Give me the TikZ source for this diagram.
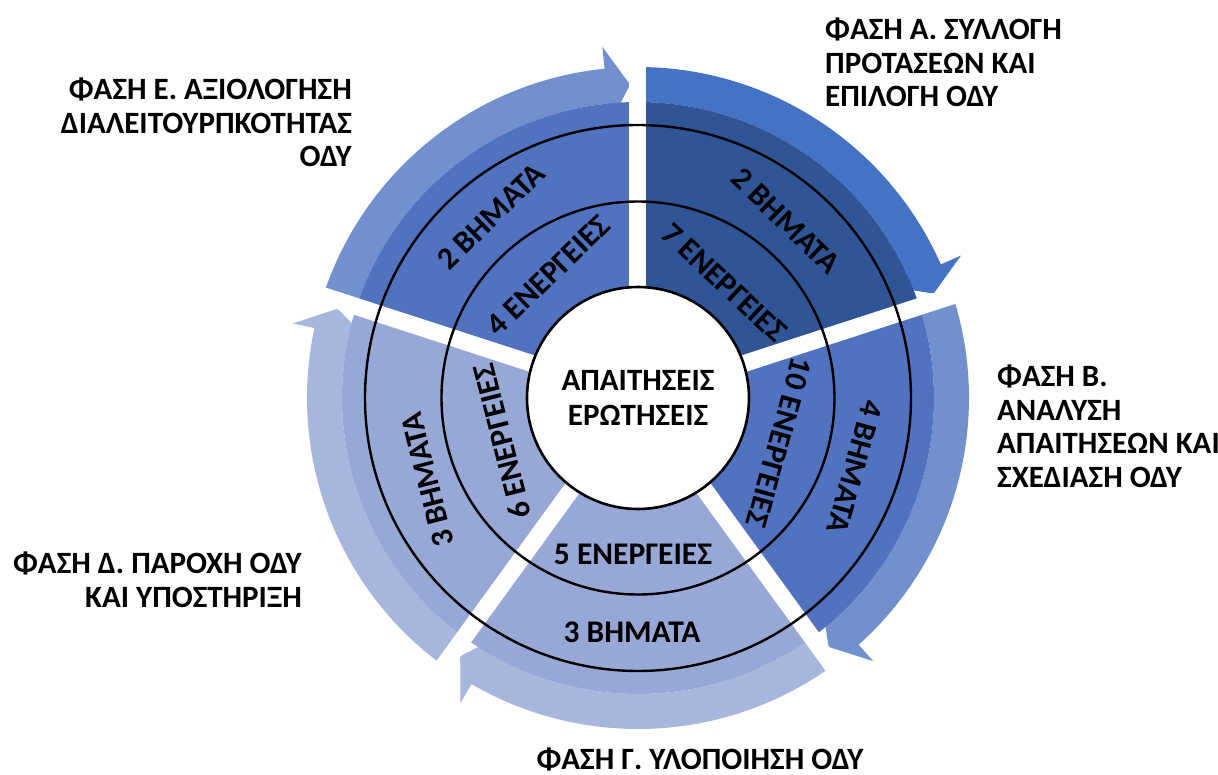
\documentclass[tikz,border=0pt]{standalone}
\usepackage{fontspec}
\setmainfont{Carlito}

\definecolor{armA}{HTML}{4472C4}
\definecolor{wedgeA}{HTML}{2F5597}
\definecolor{armBE}{HTML}{7290CE}
\definecolor{wedgeBE}{HTML}{5072BF}
\definecolor{armCD}{HTML}{A7B6DD}
\definecolor{wedgeCD}{HTML}{97A8D6}

% #1 start gap, #2 end gap (clockwise), #3 colour
\newcommand{\phasearrow}[3]{%
  \pgfmathsetmacro{\tipang}{#2+1.45}%
  \pgfmathsetmacro{\baseang}{#2+5.8}%
  \fill[#3] (#1:331) arc[start angle=#1, end angle=\baseang, radius=331]
    -- (\baseang:353) -- (\tipang:313.5) -- (\baseang:276) -- (\baseang:296)
    arc[start angle=\baseang, end angle=#1, radius=296] -- cycle;
}
\newcommand{\phasewedge}[3]{%
  \fill[#3] (0,0) -- (#1:296) arc[start angle=#1, end angle=#2, radius=296] -- cycle;
}

\begin{document}
\begin{tikzpicture}[x=1pt, y=1pt,
    ring/.style={draw=black, line width=2.4pt},
    gapline/.style={draw=white, line width=17pt},
    core/.style={circle, draw=black, fill=white, line width=2.6pt, minimum size=222pt,
      inner sep=0pt, align=center, font=\fontsize{31}{35.5}\selectfont\bfseries},
    count/.style={font=\fontsize{31.5}{33}\selectfont\bfseries, inner sep=0pt},
    phase/.style={font=\fontsize{31}{33.5}\selectfont\bfseries, inner sep=0pt}]
    \useasboundingbox (-638,-376) rectangle (580,398);

    % arrows round the cycle
    \phasearrow{90}{18}{armA}
    \phasearrow{18}{-54}{armBE}
    \phasearrow{-54}{-126}{armCD}
    \phasearrow{-126}{-198}{armCD}
    \phasearrow{162}{90}{armBE}

    \phasewedge{90}{18}{wedgeA}
    \phasewedge{18}{-54}{wedgeBE}
    \phasewedge{-54}{-126}{wedgeCD}
    \phasewedge{-126}{-198}{wedgeCD}
    \phasewedge{162}{90}{wedgeBE}

    \foreach \g in {90,18,-54,-126,162}
        \draw[gapline] (0,0) -- (\g:356);

    \draw[ring] (0,0) circle[radius=196.5];
    \draw[ring] (0,0) circle[radius=273];
    \node[core] (core) at (0,0) {ΑΠΑΙΤΗΣΕΙΣ\\ΕΡΩΤΗΣΕΙΣ};

    % steps and actions
    \node[count, rotate=-44] (stepsA) at (50.1:230.7) {2 ΒΗΜΑΤΑ};
    \node[count, rotate=-43] (actsA) at (53.3:144) {7 ΕΝΕΡΓΕΙΕΣ};
    \node[count, rotate=-105.5] (stepsB) at (-17.6:227.7) {4 ΒΗΜΑΤΑ};
    \node[count, rotate=-105.5] (actsB) at (-17.5:148) {10 ΕΝΕΡΓΕΙΕΣ};
    \node[count] (stepsC) at (-6,-234) {3 ΒΗΜΑΤΑ};
    \node[count] (actsC) at (-5,-156) {5 ΕΝΕΡΓΕΙΕΣ};
    \node[count, rotate=104.3] (stepsD) at (201.3:226) {3 ΒΗΜΑΤΑ};
    \node[count, rotate=104.3] (actsD) at (197.7:142.8) {6 ΕΝΕΡΓΕΙΕΣ};
    \node[count, rotate=44.5] (stepsE) at (129:233.6) {2 ΒΗΜΑΤΑ};
    \node[count, rotate=44] (actsE) at (126.2:152) {4 ΕΝΕΡΓΕΙΕΣ};

    % phase titles
    \node[phase, align=left, anchor=north west] (phaseA) at (187,380)
        {ΦΑΣΗ Α. ΣΥΛΛΟΓΗ\\ΠΡΟΤΑΣΕΩΝ ΚΑΙ\\ΕΠΙΛΟΓΗ ΟΔΥ};
    \node[phase, align=left, anchor=north west] (phaseB) at (359,33)
        {ΦΑΣΗ Β.\\ΑΝΑΛΥΣΗ\\ΑΠΑΙΤΗΣΕΩΝ ΚΑΙ\\ΣΧΕΔΙΑΣΗ ΟΔΥ};
    \node[phase, anchor=north] (phaseC) at (62,-350) {ΦΑΣΗ Γ. ΥΛΟΠΟΙΗΣΗ ΟΔΥ};
    \node[phase, align=right, anchor=north east] (phaseD) at (-336,-154)
        {ΦΑΣΗ Δ. ΠΑΡΟΧΗ ΟΔΥ\\ΚΑΙ ΥΠΟΣΤΗΡΙΞΗ};
    \node[phase, align=right, anchor=north east] (phaseE) at (-286,320)
        {ΦΑΣΗ Ε. ΑΞΙΟΛΟΓΗΣΗ\\ΔΙΑΛΕΙΤΟΥΡΠΚΟΤΗΤΑΣ\\ΟΔΥ};
\end{tikzpicture}
\end{document}
